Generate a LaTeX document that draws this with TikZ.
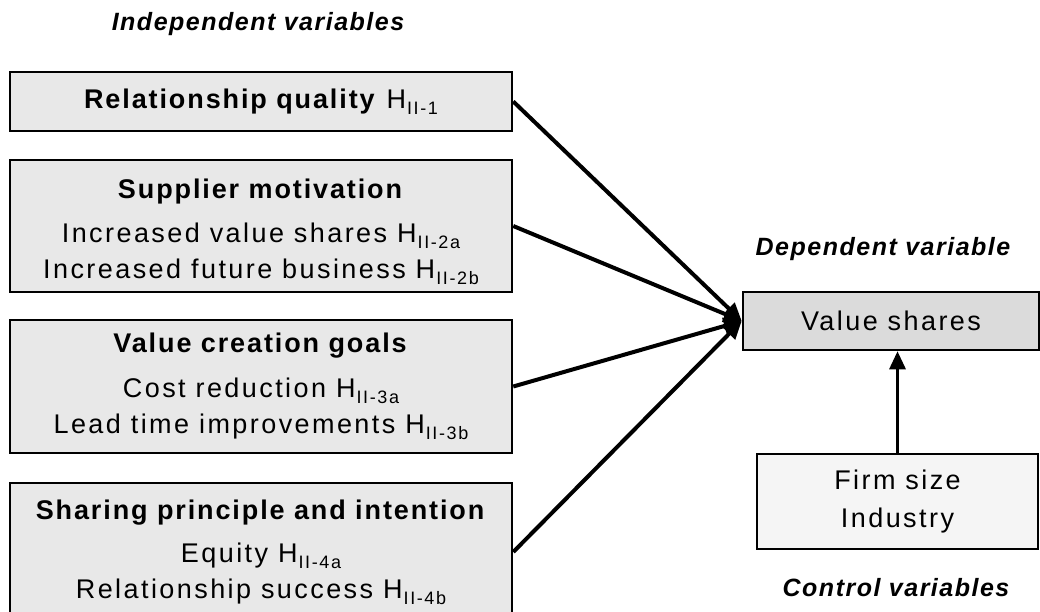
\documentclass[tikz,border=0pt]{standalone}
\usepackage{fontspec}
\setmainfont{Liberation Sans}[LetterSpace=9,
  BoldFeatures={LetterSpace=7}, ItalicFeatures={LetterSpace=6},
  BoldItalicFeatures={LetterSpace=6}]
\usetikzlibrary{arrows.meta,positioning}

\newcommand{\hyp}[1]{H\kern1pt\raisebox{-6pt}{\fontsize{18}{18}\selectfont #1}}

\tikzset{
  varbox/.style={draw, line width=2.5pt, fill=black!9, minimum width=502pt,
    align=center, inner sep=0pt, font=\fontsize{27}{36}\selectfont},
  vartitle/.style={font=\fontsize{25}{30}\selectfont\bfseries\itshape},
  effect/.style={line width=4pt, -{Triangle[length=18pt,width=16pt]}}
}

\begin{document}
\begin{tikzpicture}[x=1pt,y=-1pt]
  \useasboundingbox (0,0) rectangle (1040,612);

  % independent variables
  \node[vartitle] (indep) at (258,24) {Independent variables};
  \node[varbox, minimum height=59pt] (rq) at (261,101.5)
    {\textbf{Relationship quality} \hyp{II-1}};
  \node[varbox, minimum height=132pt] (sm) at (261,226)
    {\rule{0pt}{32pt}\textbf{Supplier motivation}\\[8pt]
     Increased value shares \hyp{II-2a}\\
     Increased future business \hyp{II-2b}};
  \node[varbox, minimum height=133pt] (vc) at (261,386.5)
    {\textbf{Value creation goals}\\[9pt]
     Cost reduction \hyp{II-3a}\\
     Lead time improvements \hyp{II-3b}};
  \node[varbox, minimum height=138pt] (sp) at (261,552)
    {\textbf{Sharing principle and intention}\\[7pt]
     Equity \hyp{II-4a}\\
     Relationship success \hyp{II-4b}};

  % dependent variable
  \node[varbox, fill=black!14, minimum width=296pt, minimum height=58pt] (vs)
    at (891,321) {Value shares};
  \node[vartitle] (dep) at (883,249) {Dependent variable};

  % control variables
  \node[varbox, fill=black!4, minimum width=281pt, minimum height=95pt,
    font=\fontsize{27}{38}\selectfont] (ctrl)
    at (897.5,501.5) {Firm size\\Industry};
  \node[vartitle] (ctrlt) at (896,588) {Control variables};

  \draw[effect] (rq.east) -- (vs.west);
  \draw[effect] (sm.east) -- (vs.west);
  \draw[effect] (vc.east) -- (vs.west);
  \draw[effect] (sp.east) -- (vs.west);
  \draw[effect, line width=3pt] (ctrl.north) -- (vs.south -| ctrl.north);
\end{tikzpicture}
\end{document}
